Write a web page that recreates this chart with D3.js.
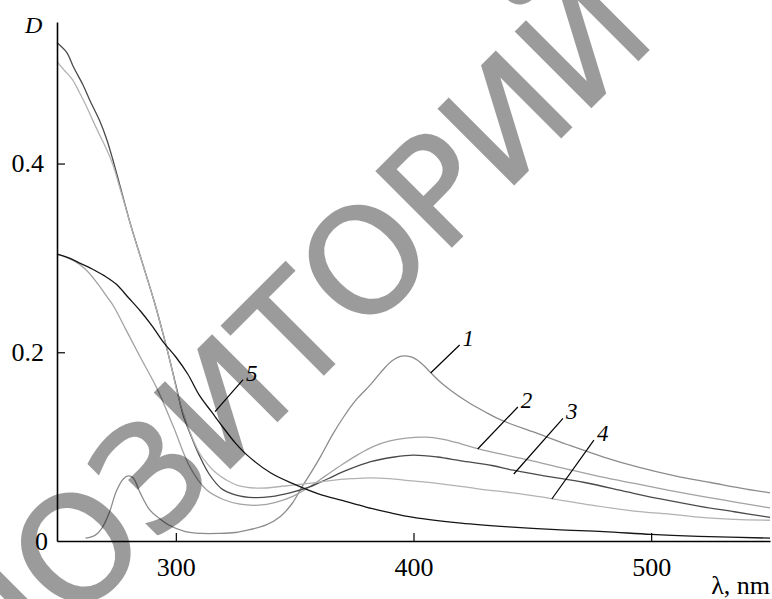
<!DOCTYPE html>
<html>
<head>
<meta charset="utf-8">
<script src="https://cdn.jsdelivr.net/npm/d3@7"></script>
<style>
  html, body { margin: 0; padding: 0; background: #fff; }
  svg { display: block; }
</style>
</head>
<body>
<svg id="chart" width="772" height="599"></svg>
<script>
// Absorption spectra D(λ), λ in nm
const curve1 = [[262,0.003],[266,0.006],[269,0.014],[272,0.030],[275,0.053],[278,0.066],[280,0.069],[282,0.067],[285,0.051],[289,0.033],[293,0.024],[297,0.017],[304,0.010],[311,0.008],[318,0.008],[325,0.009],[331,0.012],[338,0.017],[344,0.026],[349,0.040],[353,0.057],[357,0.073],[361,0.090],[366,0.113],[371,0.133],[376,0.150],[382,0.166],[387,0.181],[391,0.191],[395,0.196],[399,0.195],[403,0.189],[407,0.179],[411,0.169],[416,0.159],[423,0.147],[430,0.137],[437,0.128],[451,0.115],[465,0.102],[480,0.089],[495,0.078],[510,0.069],[525,0.062],[540,0.055],[550,0.051]];
const curve2 = [[250,0.304],[257,0.297],[262,0.288],[267,0.273],[271,0.259],[274,0.248],[279,0.224],[285,0.195],[292,0.162],[299,0.121],[306,0.078],[313,0.054],[320,0.044],[327,0.039],[335,0.038],[342,0.041],[349,0.047],[356,0.057],[363,0.069],[370,0.081],[377,0.092],[383,0.100],[390,0.106],[397,0.109],[405,0.110],[412,0.108],[420,0.103],[427,0.098],[437,0.092],[450,0.085],[465,0.076],[479,0.068],[493,0.061],[507,0.054],[522,0.047],[536,0.041],[550,0.035]];
const curve3 = [[250,0.528],[254,0.518],[257,0.502],[261,0.483],[264,0.466],[268,0.445],[271,0.425],[273.5,0.404],[277.5,0.367],[281,0.335],[286.5,0.290],[291,0.253],[295,0.216],[298,0.186],[300.5,0.160],[303,0.134],[306,0.114],[310,0.090],[314,0.071],[319,0.056],[325,0.049],[333,0.046],[340,0.047],[348,0.051],[356,0.057],[364,0.066],[372,0.075],[382,0.084],[392,0.089],[400,0.091],[410,0.089],[420,0.085],[433,0.080],[442,0.075],[455,0.069],[472,0.062],[490,0.052],[505,0.044],[520,0.037],[535,0.031],[550,0.025]];
const curve4 = [[250,0.508],[253,0.499],[256.5,0.489],[259.5,0.475],[262.5,0.460],[265,0.446],[268,0.430],[270.5,0.417],[273.5,0.399],[276,0.378],[278,0.361],[282,0.326],[286.5,0.290],[291,0.253],[295,0.216],[298,0.186],[300.5,0.158],[303,0.136],[306.5,0.112],[310,0.093],[313.5,0.081],[317,0.072],[321,0.065],[326,0.059],[335,0.056],[345,0.058],[356,0.061],[365,0.064],[374,0.066],[382,0.067],[390,0.066],[398,0.064],[410,0.061],[428,0.055],[445,0.050],[458,0.045],[475,0.038],[492,0.032],[510,0.028],[521,0.025],[535,0.023],[550,0.022]];
const curve5 = [[250,0.304],[255,0.300],[260,0.294],[265,0.288],[270,0.281],[275,0.272],[280,0.258],[285,0.244],[290,0.228],[295,0.210],[300,0.195],[305,0.177],[310,0.154],[315,0.137],[320,0.120],[325,0.104],[330,0.091],[340,0.072],[350,0.060],[360,0.050],[370,0.043],[380,0.036],[390,0.030],[400,0.025],[420,0.019],[440,0.015],[460,0.012],[480,0.010],[500,0.007],[520,0.005],[550,0.003]];

const seriesNames = ["1", "2", "3", "4", "5"];
// Leader lines: [λ on curve, D on curve, λ at label, D at label]
const labelLeaders = [
  [407.2, 0.178, 419.4, 0.2077],
  [427.0, 0.0975, 443.9, 0.142],
  [442.2, 0.071, 462.9, 0.130],
  [458.2, 0.0445, 475.9, 0.107],
  [316.5, 0.137, 328.3, 0.171]
];
const xTicks = [300, 400, 500];
const yTicks = [0.2, 0.4];
const xDomain = [250, 550];
const yDomain = [0, 0.55];
const stampText = "РЕПОЗИТОРИЙ";

const series = [curve1, curve2, curve3, curve4, curve5];
const strokeColors = ["#8c8c8c", "#a2a2a2", "#4a4a4a", "#b2b2b2", "#151515"];

const svg = d3.select("#chart");
const x = d3.scaleLinear().domain(xDomain).range([57, 770]);
const y = d3.scaleLinear().domain(yDomain).range([541, 22]);

const serif = "'Liberation Serif', 'Times New Roman', serif";

// curves
const line = d3.line()
  .x(d => x(d[0]))
  .y(d => y(d[1]))
  .curve(d3.curveCatmullRom.alpha(0.5));

svg.append("g").selectAll("path")
  .data(series)
  .join("path")
  .attr("d", line)
  .attr("fill", "none")
  .attr("stroke", (d, i) => strokeColors[i])
  .attr("stroke-width", 1.3);

// axes
const xAxis = d3.axisBottom(x)
  .tickValues(xTicks)
  .tickFormat(d3.format("d"))
  .tickSizeInner(-8)
  .tickSizeOuter(0)
  .tickPadding(17);
const yAxis = d3.axisLeft(y)
  .tickValues(yTicks)
  .tickFormat(d3.format(".1f"))
  .tickSizeInner(-8)
  .tickSizeOuter(0)
  .tickPadding(13);

const gx = svg.append("g").attr("transform", `translate(0,${y(0)})`).call(xAxis);
const gy = svg.append("g").attr("transform", `translate(${x(xDomain[0])},0)`).call(yAxis);
[gx, gy].forEach(g => {
  g.select(".domain").attr("stroke", "#000").attr("stroke-width", 1.6);
  g.selectAll(".tick line").attr("stroke", "#000").attr("stroke-width", 1.2);
  g.selectAll(".tick text")
    .attr("font-family", serif)
    .attr("font-size", 26)
    .attr("fill", "#000");
});
gx.selectAll(".tick text").attr("dy", "0.68em");

// origin label
svg.append("text")
  .attr("x", x(xDomain[0]) - 9)
  .attr("y", y(0))
  .attr("dy", "0.35em")
  .attr("text-anchor", "end")
  .attr("font-family", serif)
  .attr("font-size", 26)
  .text("0");

// axis titles
svg.append("text")
  .attr("x", 25)
  .attr("y", 33)
  .attr("font-family", serif)
  .attr("font-style", "italic")
  .attr("font-size", 24)
  .text("D");
svg.append("text")
  .attr("x", 770)
  .attr("y", 594)
  .attr("text-anchor", "end")
  .attr("font-family", serif)
  .attr("font-size", 26)
  .text("λ, nm");

// curve numbers with leader lines
const lab = svg.append("g");
lab.selectAll("line")
  .data(labelLeaders)
  .join("line")
  .attr("x1", d => x(d[0])).attr("y1", d => y(d[1]))
  .attr("x2", d => x(d[2])).attr("y2", d => y(d[3]))
  .attr("stroke", "#000")
  .attr("stroke-width", 1.2);
lab.selectAll("text")
  .data(labelLeaders)
  .join("text")
  .attr("x", d => x(d[2]) + 3)
  .attr("y", d => y(d[3]) + 1)
  .attr("font-family", serif)
  .attr("font-style", "italic")
  .attr("font-size", 23)
  .text((d, i) => seriesNames[i]);

// diagonal repository stamp across the plot
const stamp = svg.append("g").attr("opacity", 0.39);
const stampInner = stamp.append("g").attr("transform", "translate(505,118) rotate(-45)");
const st = stampInner.append("text")
  .attr("font-family", "'DejaVu Sans', sans-serif")
  .attr("font-size", 146)
  .attr("fill", "#000")
  .attr("stroke", "#000")
  .attr("stroke-width", 2)
  .text(stampText);
const ext = st.node().getExtentOfChar(9);
st.attr("x", -(ext.x + ext.width / 2)).attr("y", 146 * 0.729 / 2);
</script>
</body>
</html>
